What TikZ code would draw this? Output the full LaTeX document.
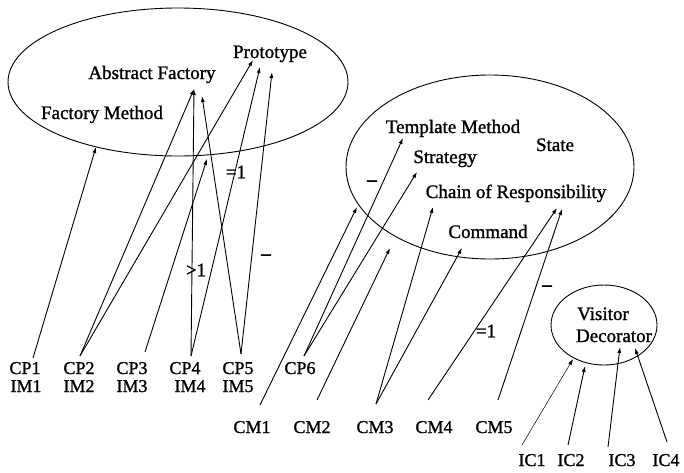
\documentclass[tikz,border=0pt]{standalone}
\usepackage{fontspec}
\setmainfont{Liberation Serif}
\newfontfamily\inkfont[FakeBold=1.2]{Liberation Serif}
\newfontfamily\heavyfont[FakeBold=3]{Liberation Serif}
\usetikzlibrary{arrows.meta,shapes.geometric}
\begin{document}
\begin{tikzpicture}[x=1pt,y=-1pt,
  lbl/.style={font=\inkfont\fontsize{19}{21}\selectfont, inner sep=0pt, anchor=base},
  src/.style={font=\inkfont\fontsize{18}{20}\selectfont, inner sep=0pt, anchor=base},
  tag/.style={font=\inkfont\fontsize{19}{21}\selectfont, inner sep=0pt},
  minus/.style={font=\heavyfont\fontsize{19}{21}\selectfont, inner sep=0pt},
  group/.style={draw, ellipse, line width=0.9pt, inner sep=0pt},
  link/.style={line width=0.9pt, -{Latex[length=6pt,width=4pt]}},
  faint/.style={line width=0.5pt, -{Latex[length=6pt,width=4pt]}}]
\useasboundingbox (0,0) rectangle (684,472);

% pattern groups
\node[group, minimum width=340pt, minimum height=148pt] (creational) at (178,82) {};
\node[group, minimum width=288pt, minimum height=184pt] (behavioral) at (490,167) {};
\node[group, minimum width=106pt, minimum height=80pt] (structural) at (604,325) {};

% pattern names
\node[lbl] (prototype) at (270,58) {Prototype};
\node[lbl] (absfactory) at (152,79) {Abstract Factory};
\node[lbl] (factmethod) at (102,119) {Factory Method};
\node[lbl] (template) at (453,133) {Template Method};
\node[lbl] (state) at (555,151) {State};
\node[lbl] (strategy) at (445,163) {Strategy};
\node[lbl] (chain) at (516,198) {Chain of Responsibility};
\node[lbl] (command) at (488,238) {Command};
\node[lbl] (visitor) at (603,320) {Visitor};
\node[lbl] (decorator) at (614,342) {Decorator};

% source labels
\node[src] (cp1) at (25,374) {CP1};
\node[src] (im1) at (26,392) {IM1};
\node[src] (cp2) at (79,374) {CP2};
\node[src] (im2) at (79,392) {IM2};
\node[src] (cp3) at (132,374) {CP3};
\node[src] (im3) at (132,392) {IM3};
\node[src] (cp4) at (185,374) {CP4};
\node[src] (im4) at (190,392) {IM4};
\node[src] (cp5) at (238,374) {CP5};
\node[src] (im5) at (238,392) {IM5};
\node[src] (cp6) at (300,374) {CP6};
\node[src] (cm1) at (252,433) {CM1};
\node[src] (cm2) at (312,433) {CM2};
\node[src] (cm3) at (375,433) {CM3};
\node[src] (cm4) at (434,433) {CM4};
\node[src] (cm5) at (494,433) {CM5};
\node[src] (ic1) at (532,466) {IC1};
\node[src] (ic2) at (571,466) {IC2};
\node[src] (ic3) at (622,466) {IC3};
\node[src] (ic4) at (666,466) {IC4};

% line ends above the labels
\coordinate (cp1s) at (33,358);
\coordinate (cp2s) at (80,356);
\coordinate (cp3s) at (145,352);
\coordinate (cp4s) at (191,356);
\coordinate (cp5s) at (241,354);
\coordinate (cp6s) at (304,356);
\coordinate (cm1s) at (260,405);
\coordinate (cm2s) at (317,400);
\coordinate (cm3s) at (376,404);
\coordinate (cm4s) at (428,400);
\coordinate (cm5s) at (498,400);
\coordinate (ic1s) at (522,445);
\coordinate (ic2s) at (568,445);
\coordinate (ic3s) at (608,447);
\coordinate (ic4s) at (667,442);

% arrow tips
\coordinate (fmT) at (96,147);
\coordinate (afT1) at (194,89);
\coordinate (afT2) at (202,96);
\coordinate (crT) at (207,159);
\coordinate (prT1) at (253,60);
\coordinate (prT2) at (260,67);
\coordinate (prT3) at (272,72);
\coordinate (tmT) at (403,138);
\coordinate (stT) at (417,172);
\coordinate (bhT1) at (357,207);
\coordinate (bhT2) at (390,248);
\coordinate (chT1) at (433,207);
\coordinate (chT2) at (557,208);
\coordinate (chT3) at (562,209);
\coordinate (cmT) at (462,248);
\coordinate (stT1) at (573,359);
\coordinate (stT2) at (585,366);
\coordinate (dcT1) at (620,347);
\coordinate (dcT2) at (635,348);

% creational links
\draw[link] (cp1s) -- (fmT);
\draw[link] (cp2s) -- (afT1);
\draw[link] (cp2s) -- (prT1);
\draw[link] (cp3s) -- (crT);
\draw[link] (cp4s) -- (afT1);
\draw[link] (cp4s) -- (prT2);
\draw[link] (cp5s) -- (afT2);
\draw[link] (cp5s) -- (prT3);

% behavioral links
\draw[link] (cp6s) -- (tmT);
\draw[link] (cp6s) -- (stT);
\draw[link] (cm1s) -- (bhT1);
\draw[link] (cm2s) -- (bhT2);
\draw[link] (cm3s) -- (chT1);
\draw[link] (cm3s) -- (cmT);
\draw[link] (cm4s) -- (chT2);
\draw[link] (cm5s) -- (chT3);

% structural links
\draw[faint] (ic1s) -- (stT1);
\draw[link] (ic2s) -- (stT2);
\draw[link] (ic3s) -- (dcT1);
\draw[link] (ic4s) -- (dcT2);

% link annotations
\node[tag] (eq1) at (236,172) {=1};
\node[tag] (gt1) at (196,270) {>1};
\node[minus] (dash1) at (266,257) {–};
\node[minus] (dash2) at (372,183) {–};
\node[tag] (eq2) at (486,331) {=1};
\node[minus] (dash3) at (547,288) {–};
\end{tikzpicture}
\end{document}
